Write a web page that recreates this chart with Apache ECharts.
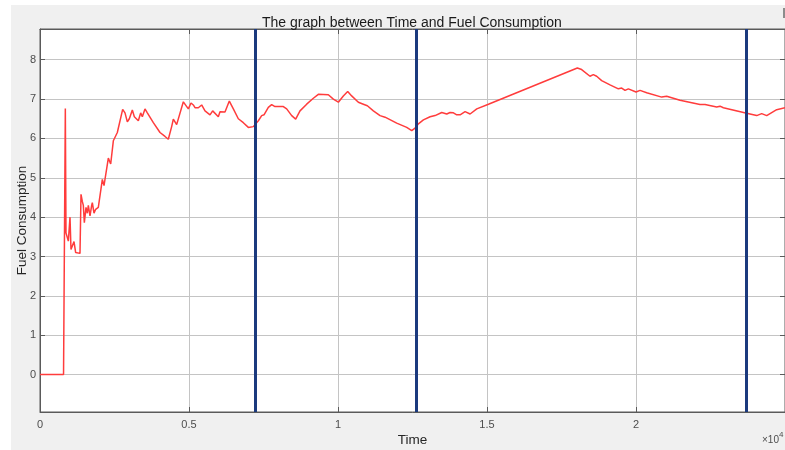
<!DOCTYPE html>
<html>
<head>
<meta charset="utf-8">
<script src="https://cdn.jsdelivr.net/npm/echarts@6/dist/echarts.min.js"></script>
<style>html,body{margin:0;padding:0;background:#fff}#c{width:785px;height:450px}</style>
</head>
<body>
<div id="c"></div>
<script>
const timeValues = [0,790,850,872,917,951,1007,1040,1096,1141,1197,1342,1376,1420,1454,1488,1544,1588,1622,1678,1734,1756,1812,1868,1902,1957,2013,2092,2148,2215,2293,2372,2461,2517,2595,2662,2774,2852,2931,2998,3098,3166,3221,3300,3378,3434,3523,3602,3803,4027,4195,4306,4418,4474,4586,4810,4978,5067,5145,5201,5257,5313,5425,5537,5705,5794,5984,6040,6208,6353,6488,6655,6823,6991,7159,7215,7327,7439,7517,7662,7774,7886,8166,8199,8278,8446,8580,8725,8949,9173,9340,9676,9844,10012,10179,10325,10459,10683,10851,10907,10985,11187,11411,11579,11970,12306,12474,12586,12698,12866,13090,13258,13482,13649,13761,13873,13985,14097,14265,14433,14657,15048,18031,18176,18456,18568,18680,18848,19128,19408,19520,19632,19744,20001,20135,20359,20862,21030,21477,22148,22316,22708,22820,22932,23714,24050,24218,24386,24721,25000];
const fuelValues = [0,0,6.76,3.6,3.55,3.39,4.0,3.18,3.15,3.38,3.1,3.08,4.58,4.4,4.3,3.86,4.25,4.1,4.3,4.03,4.3,4.37,4.1,4.2,4.15,4.25,4.2,4.96,4.8,4.85,5.5,5.35,5.94,5.9,6.15,6.1,6.74,6.65,6.42,6.5,6.72,6.55,6.6,6.45,6.65,6.55,6.75,6.65,6.4,6.15,6.05,5.98,6.3,6.49,6.35,6.93,6.75,6.9,6.85,6.78,6.82,6.78,6.85,6.7,6.6,6.7,6.55,6.68,6.67,6.95,6.75,6.5,6.4,6.28,6.3,6.3,6.45,6.58,6.6,6.79,6.86,6.81,6.81,6.85,6.75,6.58,6.49,6.7,6.87,7.02,7.12,7.11,7.0,6.92,7.08,7.19,7.08,6.92,6.87,6.89,6.83,6.7,6.58,6.54,6.39,6.28,6.2,6.26,6.37,6.47,6.55,6.58,6.66,6.62,6.66,6.65,6.6,6.6,6.68,6.62,6.75,6.87,7.79,7.75,7.58,7.62,7.58,7.47,7.36,7.26,7.28,7.22,7.26,7.18,7.22,7.16,7.05,7.07,6.97,6.86,6.86,6.8,6.82,6.78,6.64,6.58,6.63,6.58,6.73,6.78];
const eventTimes = [7215, 12640, 23714];
const yTicks = [0,1,2,3,4,5,6,7,8];
const xTickStep = 5000;

const chart = echarts.init(document.getElementById('c'), null, {renderer: 'canvas'});
const font = 'Liberation Sans, Arial, sans-serif';
const axisCol = '#5a5a5a';
const gridCol = '#c4c4c4';
const pts = timeValues.map((t, i) => [t, fuelValues[i]]);

const option = {
  backgroundColor: '#ffffff',
  animation: false,
  title: {
    text: 'The graph between Time and Fuel Consumption',
    left: 257, top: 11,
    textStyle: {fontSize: 14, fontWeight: 'normal', color: '#1a1a1a', fontFamily: font}
  },
  graphic: [
    {type: 'rect', z: -100, silent: true, shape: {x: 11, y: 5, width: 774, height: 445}, style: {fill: '#f0f0f0'}},
    {type: 'rect', z: 100, silent: true, shape: {x: 783, y: 8, width: 3, height: 10}, style: {fill: '#8c8c8c'}},
    {type: 'text', z: 100, left: 762, top: 431, style: {
      text: '{a|×10}{b|4}', rich: {
        a: {fontSize: 10, fill: '#4d4d4d', fontFamily: font, verticalAlign: 'bottom'},
        b: {fontSize: 8, fill: '#4d4d4d', fontFamily: font, verticalAlign: 'top', padding: [0,0,6,0]}
      }
    }}
  ],
  grid: {left: 40, right: 0, top: 29, bottom: 38, show: true, backgroundColor: '#ffffff', borderColor: axisCol, borderWidth: 1, containLabel: false, outerBoundsMode: 'none'},
  xAxis: [{
    type: 'value', min: 0, max: 25000, interval: xTickStep,
    name: 'Time', nameLocation: 'middle', nameGap: 21, nameMoveOverlap: false,
    nameTextStyle: {fontSize: 13.5, color: '#262626', fontFamily: font},
    axisLine: {show: true, onZero: false, lineStyle: {color: axisCol}},
    axisTick: {show: true, inside: true, length: 5, lineStyle: {color: axisCol}},
    axisLabel: {showMaxLabel: false, margin: 7, fontSize: 11, color: '#4d4d4d', fontFamily: font, formatter: v => String(v / 10000)},
    splitLine: {show: true, lineStyle: {color: gridCol, width: 1}}
  }, {
    type: 'value', position: 'top', min: 0, max: 25000, interval: xTickStep,
    axisLine: {show: true, onZero: false, lineStyle: {color: axisCol}},
    axisTick: {show: true, inside: true, length: 5, lineStyle: {color: axisCol}},
    axisLabel: {show: false}, splitLine: {show: false}
  }],
  yAxis: [{
    type: 'value', min: -0.95, max: 8.78,
    name: 'Fuel Consumption', nameLocation: 'middle', nameGap: 11, nameMoveOverlap: false,
    nameTextStyle: {fontSize: 13.5, color: '#262626', fontFamily: font},
    axisLine: {show: true, onZero: false, lineStyle: {color: axisCol}},
    axisTick: {show: true, inside: true, length: 5, customValues: yTicks, lineStyle: {color: axisCol}},
    axisLabel: {customValues: yTicks, margin: 4, fontSize: 11, color: '#4d4d4d', fontFamily: font},
    splitLine: {show: true, lineStyle: {color: gridCol, width: 1}}
  }, {
    type: 'value', position: 'right', min: -0.95, max: 8.78,
    axisLine: {show: true, onZero: false, lineStyle: {color: axisCol}},
    axisTick: {show: true, inside: true, length: 5, customValues: yTicks, lineStyle: {color: axisCol}},
    axisLabel: {show: false}, splitLine: {show: false}
  }],
  series: [{
    type: 'line', data: pts, showSymbol: false, symbol: 'none',
    lineStyle: {color: '#ff3c3c', width: 1.5}, z: 3,
    markLine: {
      silent: true, symbol: ['none', 'none'], label: {show: false},
      lineStyle: {color: '#1b3a7e', width: 3, type: 'solid'},
      data: eventTimes.map(t => ({xAxis: t}))
    }
  }]
};
chart.setOption(option);
</script>
</body>
</html>
